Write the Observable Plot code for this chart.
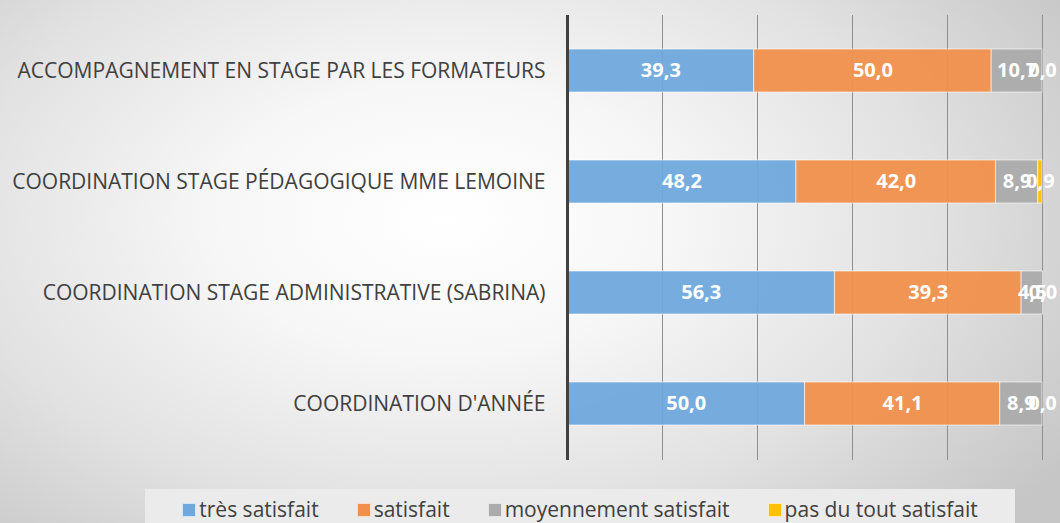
<!DOCTYPE html>
<html>
<head>
<meta charset="utf-8">
<script src="https://cdn.jsdelivr.net/npm/d3@7"></script>
<script src="https://cdn.jsdelivr.net/npm/@observablehq/plot@0.6"></script>
<style>
  html, body { margin: 0; padding: 0; }
  body { width: 1060px; height: 523px; overflow: hidden; }
  #wrap {
    position: relative; width: 1060px; height: 523px;
    background: radial-gradient(ellipse 70% 85% at 42% 42%, #ffffff 0%, #f7f7f7 30%, #e2e2e2 65%, #c6c6c6 100%);
    font-family: "Open Sans", sans-serif;
  }
  #legend {
    position: absolute; left: 145px; width: 870px; top: 489px; height: 34px;
    background: #ebebeb;
    display: flex; justify-content: center; align-items: center; gap: 38px;
    font-size: 21px; color: #404040; padding-top: 5px; box-sizing: border-box;
  }
  #legend .item { display: flex; align-items: center; gap: 3px; white-space: nowrap; }
  #legend .sw { width: 12px; height: 12px; border: 1px solid rgba(255,255,255,0.7); margin-top: 2px; }
</style>
</head>
<body>
<div id="wrap"><div id="chart"></div><div id="legend"></div></div>
<script>
const categories = [
  "ACCOMPAGNEMENT EN STAGE PAR LES FORMATEURS",
  "COORDINATION STAGE PÉDAGOGIQUE MME LEMOINE",
  "COORDINATION STAGE ADMINISTRATIVE (SABRINA)",
  "COORDINATION D'ANNÉE"
];
const seriesNames = ["très satisfait", "satisfait", "moyennement satisfait", "pas du tout satisfait"];
const seriesColors = ["#6fa8dc", "#f0904c", "#ababab", "#ffc000"];
const tresSatisfait = [39.3, 48.2, 56.3, 50.0];
const satisfait = [50.0, 42.0, 39.3, 41.1];
const moyennementSatisfait = [10.7, 8.9, 4.5, 8.9];
const pasDuToutSatisfait = [0.0, 0.9, 0.0, 0.0];
const gridTicks = [20, 40, 60, 80, 100];

const seriesValues = [tresSatisfait, satisfait, moyennementSatisfait, pasDuToutSatisfait];
const data = [];
seriesNames.forEach((s, si) => {
  categories.forEach((c, ci) => data.push({cat: c, series: s, value: seriesValues[si][ci]}));
});
const fmt = v => v.toFixed(1).replace(".", ",");

const chart = Plot.plot({
  width: 1060,
  height: 489,
  marginLeft: 567,
  marginRight: 18,
  marginTop: 15,
  marginBottom: 29,
  style: {background: "transparent", fontFamily: "Open Sans, sans-serif", fontSize: "21px", color: "#404040", overflow: "visible"},
  x: {domain: [0, 100], axis: null},
  y: {domain: categories, paddingInner: 0.61, paddingOuter: 0.305, label: null},
  color: {domain: seriesNames, range: seriesColors},
  marks: [
    Plot.ruleX(gridTicks, {stroke: "#8f8f8f", strokeWidth: 1}),
    Plot.barX(data, Plot.stackX({x: "value", y: "cat", fill: "series", order: seriesNames, fillOpacity: 0.95, stroke: "#ffffff", strokeOpacity: 0.6, strokeWidth: 1})),
    Plot.text(data, Plot.stackX({x: "value", y: "cat", z: "series", order: seriesNames, text: d => fmt(d.value), fill: "white", fontWeight: "bold", fontSize: 20})),
    Plot.ruleX([0], {stroke: "#404040", strokeWidth: 3}),
    Plot.axisY({tickSize: 0, tickPadding: 22, fontSize: 21, label: null})
  ]
});
document.getElementById("chart").appendChild(chart);

const legend = document.getElementById("legend");
seriesNames.forEach((s, i) => {
  const it = document.createElement("div");
  it.className = "item";
  const sw = document.createElement("span");
  sw.className = "sw";
  sw.style.background = seriesColors[i];
  const t = document.createElement("span");
  t.textContent = s;
  it.appendChild(sw); it.appendChild(t);
  legend.appendChild(it);
});
</script>
</body>
</html>
